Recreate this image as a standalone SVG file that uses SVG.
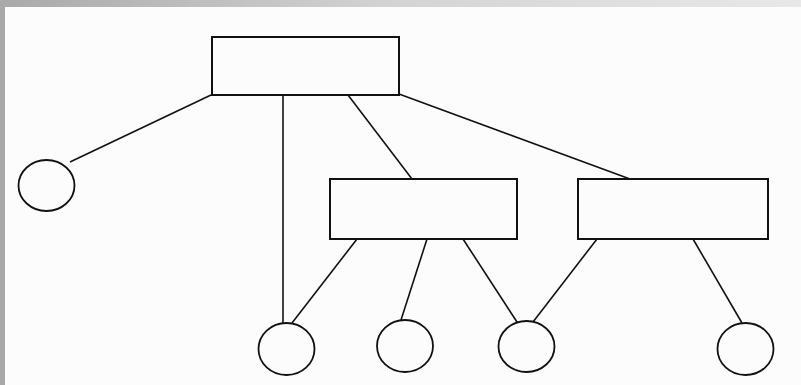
<svg xmlns="http://www.w3.org/2000/svg" width="801" height="385" viewBox="0 0 801 385">
<defs>
<linearGradient id="topbar" x1="0" y1="0" x2="1" y2="0">
<stop offset="0" stop-color="#a9a9a9"/>
<stop offset="0.5" stop-color="#d4d4d4"/>
<stop offset="1" stop-color="#e8e8e8"/>
</linearGradient>
</defs>
<style>
.box{fill:none;stroke:#111;stroke-width:2}
.node{fill:none;stroke:#111;stroke-width:1.8}
.edge{stroke:#111;stroke-width:1.6;fill:none}
</style>
<rect x="0" y="0" width="801" height="385" fill="#fbfcfb"/>
<rect x="0" y="0" width="801" height="7" fill="url(#topbar)"/>
<rect x="0" y="0" width="5" height="385" fill="#a9a9a9"/>
<g id="connectors">
<line class="edge" x1="211" y1="95" x2="70" y2="162"/>
<line class="edge" x1="283" y1="95" x2="283" y2="323"/>
<line class="edge" x1="348" y1="95" x2="412" y2="179"/>
<line class="edge" x1="399" y1="94" x2="630" y2="179"/>
<line class="edge" x1="357" y1="239" x2="292" y2="323"/>
<line class="edge" x1="427" y1="239" x2="401" y2="320"/>
<line class="edge" x1="463" y1="239" x2="517" y2="322"/>
<line class="edge" x1="597" y1="239" x2="533" y2="322"/>
<line class="edge" x1="693" y1="239" x2="742" y2="323"/>
</g>
<g id="root"><rect class="box" x="212" y="37" width="187" height="58"/></g>
<g id="mid"><rect class="box" x="330" y="179" width="187" height="60"/></g>
<g id="right"><rect class="box" x="578" y="179" width="190" height="60"/></g>
<g id="c0"><ellipse class="node" cx="46.5" cy="185.5" rx="28" ry="25.5"/></g>
<g id="c1"><ellipse class="node" cx="286.5" cy="349" rx="28" ry="26"/></g>
<g id="c2"><ellipse class="node" cx="405" cy="346" rx="28" ry="26"/></g>
<g id="c3"><ellipse class="node" cx="526.5" cy="346.5" rx="28" ry="25.5"/></g>
<g id="c4"><ellipse class="node" cx="745.5" cy="349" rx="28" ry="26"/></g>
</svg>
